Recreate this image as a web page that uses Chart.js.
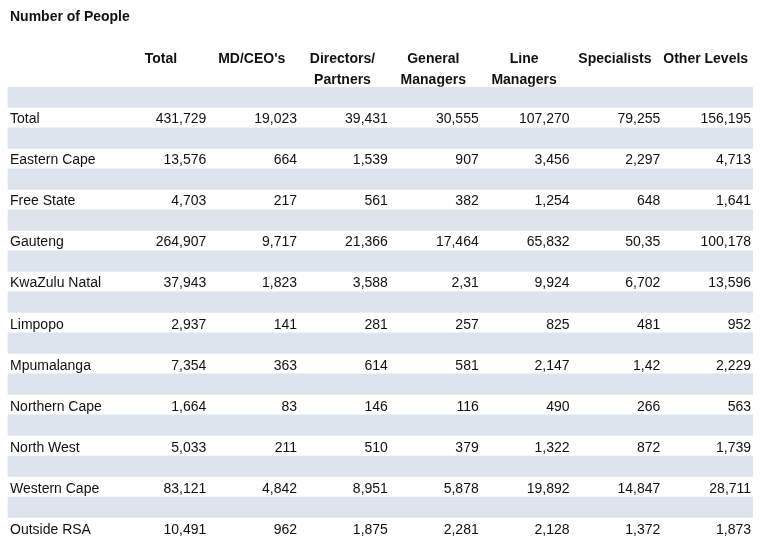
<!DOCTYPE html>
<html>
<head>
<meta charset="utf-8">
<title>Number of People</title>
<script src="https://cdn.jsdelivr.net/npm/chart.js@4/dist/chart.umd.min.js"></script>
<style>
  body { margin: 0; background: #fff; }
  #wrap { width: 776px; height: 560px; }
</style>
</head>
<body>
<div id="wrap"><canvas id="myChart"></canvas></div>
<script>
// table data
const rowNames = ["Total", "Eastern Cape", "Free State", "Gauteng", "KwaZulu Natal", "Limpopo",
  "Mpumalanga", "Northern Cape", "North West", "Western Cape", "Outside RSA"];
const headers = [["Total", ""], ["MD/CEO's", ""], ["Directors/", "Partners"], ["General", "Managers"],
  ["Line", "Managers"], ["Specialists", ""], ["Other Levels", ""]];

const totals      = ["431,729", "13,576", "4,703", "264,907", "37,943", "2,937", "7,354", "1,664", "5,033", "83,121", "10,491"];
const mdCeos      = ["19,023", "664", "217", "9,717", "1,823", "141", "363", "83", "211", "4,842", "962"];
const directors   = ["39,431", "1,539", "561", "21,366", "3,588", "281", "614", "146", "510", "8,951", "1,875"];
const generalMgrs = ["30,555", "907", "382", "17,464", "2,31", "257", "581", "116", "379", "5,878", "2,281"];
const lineMgrs    = ["107,270", "3,456", "1,254", "65,832", "9,924", "825", "2,147", "490", "1,322", "19,892", "2,128"];
const specialists = ["79,255", "2,297", "648", "50,35", "6,702", "481", "1,42", "266", "872", "14,847", "1,372"];
const otherLevels = ["156,195", "4,713", "1,641", "100,178", "13,596", "952", "2,229", "563", "1,739", "28,711", "1,873"];

const columns = [totals, mdCeos, directors, generalMgrs, lineMgrs, specialists, otherLevels];

// x runs in column units: label column on the left, one unit per number column
const X_MIN = -1.162;
const X_MAX = 7.021;
const STRIPE_MIN = -1.184; // shading pokes a little left of the label text
const TEXT_DROP = 2;       // cell text sits a touch below the row middle
const FONT = '"Liberation Sans", Arial, sans-serif';
const INK = "#111";

// every data row sits under a shaded spacer row
let slots = [];
let stripes = [];
rowNames.forEach(function(name) {
  slots.push("");
  stripes.push([STRIPE_MIN, X_MAX]);
  slots.push(name);
  stripes.push(null);
});

const cellText = {
  id: "cellText",
  afterDatasetsDraw(chart) {
    const ctx = chart.ctx;
    const xs = chart.scales.x;
    const ys = chart.scales.y;
    ctx.save();
    ctx.font = "14px " + FONT;
    ctx.fillStyle = INK;
    ctx.textAlign = "right";
    ctx.textBaseline = "middle";
    columns.forEach(function(col, c) {
      col.forEach(function(txt, r) {
        ctx.fillText(txt, xs.getPixelForValue(c + 1), ys.getPixelForValue(r * 2 + 1) + TEXT_DROP);
      });
    });
    ctx.restore();
  }
};

var ctx = document.getElementById("myChart").getContext("2d");
var myChart = new Chart(ctx, {
  type: "bar",
  data: {
    labels: slots,
    datasets: [{
      data: stripes,
      backgroundColor: "#dde4ee",
      borderWidth: 0,
      barPercentage: 1,
      categoryPercentage: 1,
      clip: { left: 3, top: 0, right: 0, bottom: 0 }
    }]
  },
  options: {
    indexAxis: "y",
    responsive: true,
    maintainAspectRatio: false,
    animation: false,
    layout: { padding: { left: 10, right: 23, top: 0, bottom: 22 } },
    plugins: {
      legend: { display: false },
      tooltip: { enabled: false },
      title: {
        display: true,
        text: "Number of People",
        align: "start",
        color: INK,
        font: { family: FONT, size: 14, weight: "bold" },
        padding: { top: 9, bottom: 27 }
      }
    },
    scales: {
      x: {
        type: "linear",
        position: "top",
        min: X_MIN,
        max: X_MAX,
        afterBuildTicks: function(axis) {
          axis.ticks = headers.map(function(h, i) { return { value: i + 0.5 }; });
        },
        grid: { display: false, drawTicks: false },
        border: { display: false },
        ticks: {
          autoSkip: false,
          maxRotation: 0,
          padding: -4,
          color: INK,
          font: { family: FONT, size: 14, weight: "bold", lineHeight: 1.5 },
          callback: function(value, index) { return headers[index]; }
        }
      },
      y: {
        afterFit: function(axis) { axis.width = 0; },
        grid: { display: false, drawTicks: false },
        border: { display: false },
        ticks: {
          autoSkip: false,
          mirror: true,
          crossAlign: "near",
          padding: 0,
          labelOffset: TEXT_DROP,
          color: INK,
          font: { family: FONT, size: 14 }
        }
      }
    }
  },
  plugins: [cellText]
});
</script>
</body>
</html>
